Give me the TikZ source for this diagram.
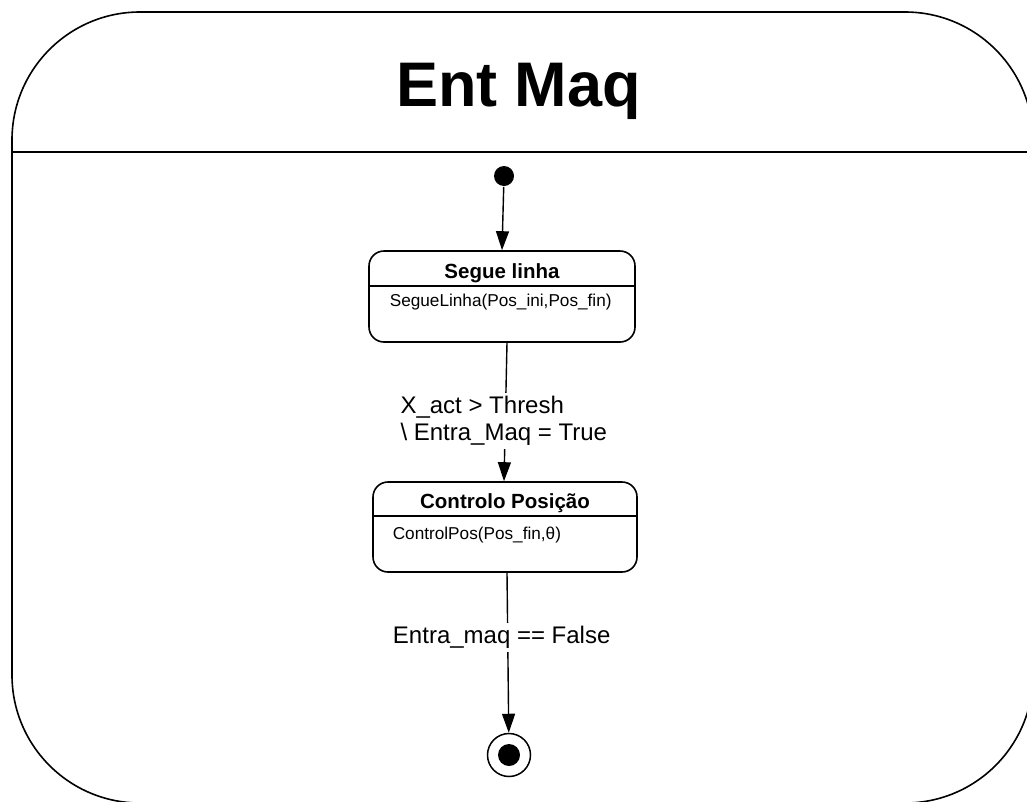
\documentclass[tikz,border=0pt]{standalone}
\usepackage{fontspec}
\setmainfont{Liberation Sans}
\usetikzlibrary{arrows.meta}
\newcommand{\fsz}[1]{\fontsize{#1}{#1}\selectfont}
\begin{document}
\begin{tikzpicture}[x=1pt,y=-1pt,line width=1.6pt,
  statebox/.style={draw,rounded corners=15pt,inner sep=0pt},
  stitle/.style={font=\fsz{20.5}\bfseries,inner sep=0pt},
  sbody/.style={font=\fsz{17.2},anchor=west,inner sep=0pt},
  arr/.style={-{Triangle[length=19pt,width=13pt]},line width=1.4pt},
  guard/.style={fill=white,align=left,inner sep=3pt,font=\fontsize{24}{27}\selectfont}]
\useasboundingbox (0,0) rectangle (1027,801);
% composite state frame with its header compartment
\begin{scope}
  \clip (0,0) rectangle (1027,801);
  \draw[rounded corners=128pt] (12,12) rectangle (1033,803);
  \draw (12,152) -- (1040,152);
\end{scope}
\node[font=\fsz{63}\bfseries,anchor=base,inner sep=0pt] (title) at (518.5,106) {Ent Maq};

% initial pseudo-state
\node[circle,fill,inner sep=0pt,minimum size=20pt] (init) at (504,176) {};

% state: Segue linha
\node[statebox,minimum width=266pt,minimum height=91pt] (s1) at (502,296.5) {};
\draw ([yshift=-36pt]s1.north west) -- ([yshift=-36pt]s1.north east);
\node[stitle] (s1t) at (502,273) {Segue linha};
\node[sbody] (s1b) at (389,302) {SegueLinha(Pos\_ini,Pos\_fin)};

% state: Controlo Posição
\node[statebox,minimum width=264pt,minimum height=90pt] (s2) at (505,527) {};
\draw ([yshift=-35pt]s2.north west) -- ([yshift=-35pt]s2.north east);
\node[stitle] (s2t) at (505,503) {Controlo Posição};
\node[sbody] (s2b) at (392,535) {ControlPos(Pos\_fin,θ)};

% final state
\node[circle,draw,inner sep=0pt,minimum size=43pt,line width=1.5pt] (fin) at (509,755) {};
\fill (fin.center) circle (11pt);

% transitions
\draw[arr] (init) -- (s1.north);
\draw[arr] ([xshift=5pt]s1.south) -- node[guard,pos=0.565,xshift=-1.5pt] (g1) {X\_act > Thresh\\\textbackslash{} Entra\_Maq = True} ([xshift=-1pt]s2.north);
\draw[arr] ([xshift=2pt]s2.south) -- node[guard,pos=0.405,xshift=-6pt] (g2) {Entra\_maq == False} (fin);
\end{tikzpicture}
\end{document}
